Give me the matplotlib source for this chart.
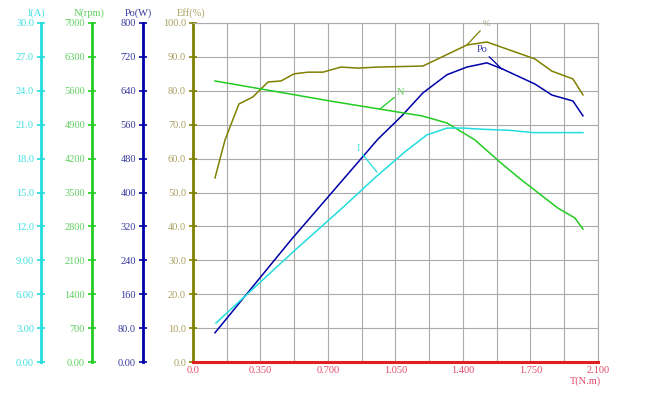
import matplotlib
matplotlib.use("Agg")
import matplotlib.pyplot as plt
import numpy as np

# ---------------- data ----------------
x_ticks = [0.0, 0.35, 0.70, 1.05, 1.40, 1.75, 2.10]
x_ticklabels = ["0.0", "0.350", "0.700", "1.050", "1.400", "1.750", "2.100"]

eff_ticks = [0, 10, 20, 30, 40, 50, 60, 70, 80, 90, 100]
eff_ticklabels = ["0.0", "10.0", "20.0", "30.0", "40.0", "50.0", "60.0", "70.0", "80.0", "90.0", "100.0"]
po_ticks = [0, 80, 160, 240, 320, 400, 480, 560, 640, 720, 800]
po_ticklabels = ["0.00", "80.0", "160", "240", "320", "400", "480", "560", "640", "720", "800"]
n_ticks = [0, 700, 1400, 2100, 2800, 3500, 4200, 4900, 5600, 6300, 7000]
n_ticklabels = ["0.00", "700", "1400", "2100", "2800", "3500", "4200", "4900", "5600", "6300", "7000"]
i_ticks = [0, 3, 6, 9, 12, 15, 18, 21, 24, 27, 30]
i_ticklabels = ["0.00", "3.00", "6.00", "9.00", "12.0", "15.0", "18.0", "21.0", "24.0", "27.0", "30.0"]

# Efficiency (%)
t_eff = [0.114, 0.166, 0.238, 0.311, 0.389, 0.456, 0.524, 0.596, 0.674, 0.767,
         0.855, 0.959, 1.192, 1.420, 1.524, 1.643, 1.773, 1.861, 1.970, 2.022]
eff = [54.3, 65.5, 76.1, 78.2, 82.6, 82.9, 85.0, 85.5, 85.5, 87.0,
       86.7, 87.0, 87.3, 93.5, 94.4, 92.0, 89.4, 85.8, 83.5, 78.8]

# Output power (W)
t_po = [0.114, 0.508, 0.959, 1.083, 1.192, 1.317, 1.420, 1.524, 1.607, 1.773, 1.861, 1.970, 2.022]
po = [69, 288, 526, 581, 635, 678, 696, 706, 691, 656, 630, 616, 581]

# Speed (rpm)
t_n = [0.114, 0.529, 0.710, 0.969, 1.187, 1.317, 1.462, 1.591, 1.690, 1.892, 1.980, 2.022]
n_rpm = [5803, 5516, 5390, 5222, 5082, 4935, 4585, 4130, 3801, 3178, 2975, 2744]

# Current (A)
t_i = [0.119, 0.529, 0.772, 0.943, 1.099, 1.213, 1.317, 1.400, 1.498, 1.643, 1.763, 1.887, 2.022]
i_amp = [3.45, 9.9, 13.6, 16.3, 18.6, 20.1, 20.7, 20.7, 20.6, 20.5, 20.3, 20.3, 20.3]

# ---------------- style ----------------
FONT = "Liberation Serif"
FS = 7.5
C_EFF = "#808000"
C_PO = "#0000a8"
C_N = "#22cc22"
C_I = "#22dddd"
C_X = "#e02020"

W, H = 650, 405
fig = plt.figure(figsize=(W / 100, H / 100), dpi=100)
left_px, right_px, top_px, bot_px = 193, 598, 23, 362
ax = fig.add_axes([left_px / W, 1 - bot_px / H, (right_px - left_px) / W, (bot_px - top_px) / H])

ax.set_xlim(0, 2.1)
ax.set_ylim(0, 100)
ax.set_xticks(x_ticks, x_ticklabels)
ax.set_xticks(np.arange(0.175, 2.1, 0.35), minor=True)
ax.set_yticks(eff_ticks, eff_ticklabels)
ax.grid(True, which="both", color="#aaaaaa", lw=0.8)
ax.set_axisbelow(True)
ax.tick_params(axis="x", which="both", length=0, pad=3, labelsize=FS, labelcolor="#e04a6a")
ax.tick_params(axis="y", direction="inout", length=6, width=1.2, color=C_EFF,
               labelsize=FS, labelcolor="#a8a060", pad=2)
for lab in ax.get_xticklabels() + ax.get_yticklabels():
    lab.set_fontfamily(FONT)
ax.spines["left"].set_color(C_EFF)
ax.spines["left"].set_linewidth(2)
ax.spines["bottom"].set_color(C_X)
ax.spines["bottom"].set_linewidth(2.2)
for s in ("top", "right"):
    ax.spines[s].set_color("#aaaaaa")
    ax.spines[s].set_linewidth(0.8)

def make_axis(offset_px, ylim, ticks, labels, color, labcolor):
    a = ax.twinx()
    a.set_ylim(*ylim)
    for s in ("top", "right", "bottom"):
        a.spines[s].set_visible(False)
    a.spines["left"].set_visible(True)
    a.spines["left"].set_position(("axes", offset_px / (right_px - left_px)))
    a.spines["left"].set_color(color)
    a.spines["left"].set_linewidth(2)
    a.yaxis.set_ticks_position("left")
    a.yaxis.set_label_position("left")
    a.set_yticks(ticks, labels)
    a.tick_params(axis="y", direction="inout", length=6, width=1.2, color=color,
                  labelsize=FS, labelcolor=labcolor, pad=2)
    for lab in a.get_yticklabels():
        lab.set_fontfamily(FONT)
    return a

ax_po = make_axis(143 - left_px, (0, 800), po_ticks, po_ticklabels, C_PO, "#3838a0")
ax_n = make_axis(92 - left_px, (0, 7000), n_ticks, n_ticklabels, C_N, "#60d060")
ax_i = make_axis(41 - left_px, (0, 30), i_ticks, i_ticklabels, C_I, "#40e0e0")

# axis titles
title_y = 1 - 13 / H
for xpx, txt, col in [(36, "I(A)", "#40e0e0"), (89, "N(rpm)", "#60d060"),
                      (138, "Po(W)", "#3838a0"), (191, "Eff(%)", "#a8a060")]:
    fig.text(xpx / W, title_y, txt, ha="center", va="center", fontsize=FS,
             color=col, family=FONT)
fig.text(601 / W, 1 - 381 / H, "T(N.m)", ha="right", va="center", fontsize=FS,
         color="#e04a6a", family=FONT)

# curves
ax.plot(t_eff, eff, color=C_EFF, lw=1.1, zorder=5)
ax_po.plot(t_po, po, color=C_PO, lw=1.1, zorder=5)
ax_n.plot(t_n, n_rpm, color=C_N, lw=1.1, zorder=5)
ax_i.plot(t_i, i_amp, color=C_I, lw=1.1, zorder=5)

# curve labels with leaders
ap = dict(arrowstyle="-", lw=0.9, shrinkA=0, shrinkB=0)
ax.annotate("%", xy=(1.420, 93.5), xytext=(1.503, 98.5), fontsize=FS - 1,
            color="#a0a080", family=FONT, ha="left", va="bottom",
            arrowprops=dict(ap, color=C_EFF))
ax_po.annotate("Po", xy=(1.602, 691), xytext=(1.525, 727), fontsize=FS,
               color="#3838b0", family=FONT, ha="right", va="bottom",
               arrowprops=dict(ap, color=C_PO))
ax_n.annotate("N", xy=(0.969, 5222), xytext=(1.058, 5572), fontsize=FS,
              color="#60d060", family=FONT, ha="left", va="center",
              arrowprops=dict(ap, color=C_N))
ax_i.annotate("I", xy=(0.954, 16.8), xytext=(0.855, 18.5), fontsize=FS,
              color="#40e0e0", family=FONT, ha="center", va="bottom",
              arrowprops=dict(ap, color=C_I))

fig.savefig("out.png", dpi=100)
